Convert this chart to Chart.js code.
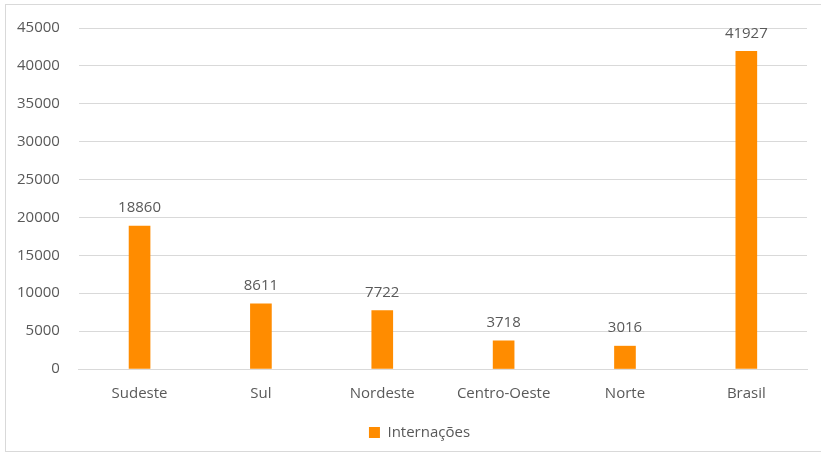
<!DOCTYPE html>
<html>
<head>
<meta charset="utf-8">
<script src="https://cdn.jsdelivr.net/npm/chart.js@4"></script>
<style>
  html, body { margin: 0; padding: 0; background: #fff; }
  #frame {
    position: absolute; left: 5px; top: 4px; width: 840px; height: 446px;
    border: 1px solid #d9d9d9;
  }
  #wrap { position: absolute; left: 0; top: 0; width: 821px; height: 454px; }
</style>
</head>
<body>
<div id="frame"></div>
<div id="wrap"><canvas id="chart1"></canvas></div>
<script>
const regioes = ['Sudeste', 'Sul', 'Nordeste', 'Centro-Oeste', 'Norte', 'Brasil'];
const internacoes = [18860, 8611, 7722, 3718, 3016, 41927];
const yTicks = [0, 5000, 10000, 15000, 20000, 25000, 30000, 35000, 40000, 45000];

const cinza = '#595959';
const fonte = { family: '"Open Sans", sans-serif', size: 15 };

// escreve o valor em cima de cada barra
const valoresNasBarras = {
  id: 'valoresNasBarras',
  afterDatasetsDraw(chart) {
    const ctx = chart.ctx;
    const meta = chart.getDatasetMeta(0);
    ctx.save();
    ctx.font = '15px "Open Sans", sans-serif';
    ctx.fillStyle = cinza;
    ctx.textAlign = 'center';
    ctx.textBaseline = 'middle';
    meta.data.forEach((bar, i) => {
      ctx.fillText(String(internacoes[i]), bar.x, bar.y - 18);
    });
    ctx.restore();
  }
};

// legenda um pouco mais para a direita, como no original
const moveLegenda = {
  id: 'moveLegenda',
  afterLayout(chart) {
    chart.legend.left += 17;
    chart.legend.right += 17;
  }
};

const config = {
  type: 'bar',
  data: {
    labels: regioes,
    datasets: [{
      label: 'Internações',
      backgroundColor: 'rgb(255, 140, 0)',
      borderWidth: 0,
      data: internacoes,
      barThickness: 21
    }]
  },
  options: {
    responsive: false,
    animation: false,
    layout: { padding: { left: -2, right: 14, top: 15, bottom: 4 } },
    scales: {
      x: {
        grid: { display: false },
        border: { color: '#d9d9d9' },
        ticks: { color: cinza, font: fonte, padding: 8 }
      },
      y: {
        min: 0,
        max: 45000,
        afterBuildTicks(axis) { axis.ticks = yTicks.map(v => ({ value: v })); },
        grid: { color: '#d9d9d9', drawTicks: false },
        border: { display: false },
        ticks: { color: cinza, font: fonte, padding: 19, callback: v => String(v) }
      }
    },
    plugins: {
      legend: {
        position: 'bottom',
        labels: { color: cinza, font: fonte, boxWidth: 11, boxHeight: 11, padding: 14 }
      },
      tooltip: { enabled: false }
    }
  },
  plugins: [valoresNasBarras, moveLegenda]
};

const canvas = document.getElementById('chart1');
canvas.width = 821;
canvas.height = 454;
const chart1 = new Chart(canvas, config);
</script>
</body>
</html>
